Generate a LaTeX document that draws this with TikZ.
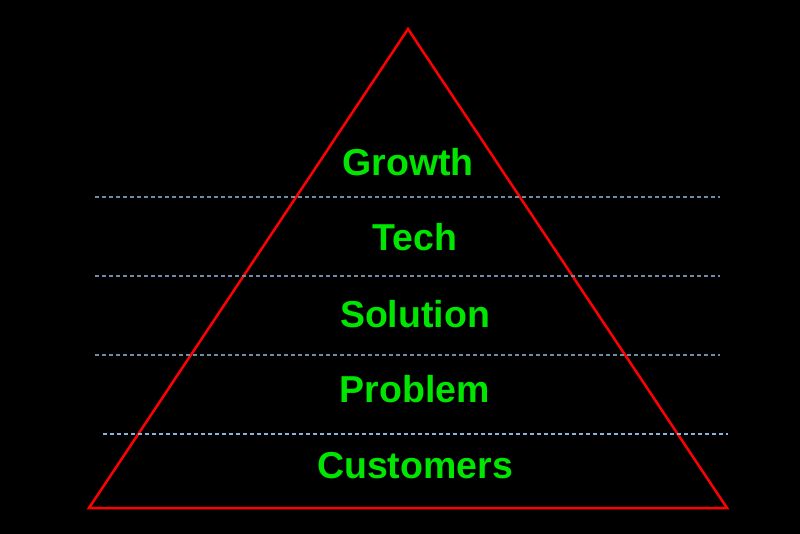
\documentclass[tikz,border=0pt]{standalone}
\usepackage{fontspec}
\setmainfont{Liberation Sans}
\definecolor{levelgreen}{RGB}{0, 230, 0}
\definecolor{edgered}{RGB}{255, 0, 0}
\definecolor{rulegray}{RGB}{110, 140, 165}
\definecolor{ruleblue}{RGB}{135, 180, 220}
\usetikzlibrary{calc,positioning}
\tikzset{
  level/.style={text=levelgreen, font=\fontsize{37.5}{44}\selectfont\bfseries, anchor=base},
  divider/.style={draw=rulegray, line width=1.1pt, dash pattern=on 4pt off 3pt},
}

\begin{document}
\begin{tikzpicture}[x=1pt, y=-1pt]
                % black canvas
                \fill[black] (0,0) rectangle (800,534);
                \useasboundingbox (0,0) rectangle (800,534);

                % pyramid corners
                \coordinate (apex) at (408,29);
                \coordinate (baseL) at (89,508);
                \coordinate (baseR) at (727,508);
                \draw[edgered, line width=2.5pt, line join=miter] (apex) -- (baseL) -- (baseR) -- cycle;

                % dividers
                \coordinate (d1L) at (95,197);  \coordinate (d1R) at (720,197);
                \coordinate (d2L) at (95,276);  \coordinate (d2R) at (720,276);
                \coordinate (d3L) at (95,355);  \coordinate (d3R) at (720,355);
                \coordinate (d4L) at (103,434); \coordinate (d4R) at (728,434);
                \draw[divider] (d1L) -- (d1R);
                \draw[divider] (d2L) -- (d2R);
                \draw[divider] (d3L) -- (d3R);
                \draw[divider, draw=ruleblue] (d4L) -- (d4R);

                % levels
                \node[level] (growth) at (408,176) {Growth};
                \node[level] (tech) at (415,251) {Tech};
                \node[level] (solution) at (415,327) {Solution};
                \node[level] (problem) at (415,402) {Problem};
                \node[level] (customers) at (415,478) {Customers};
            \end{tikzpicture}
\end{document}
